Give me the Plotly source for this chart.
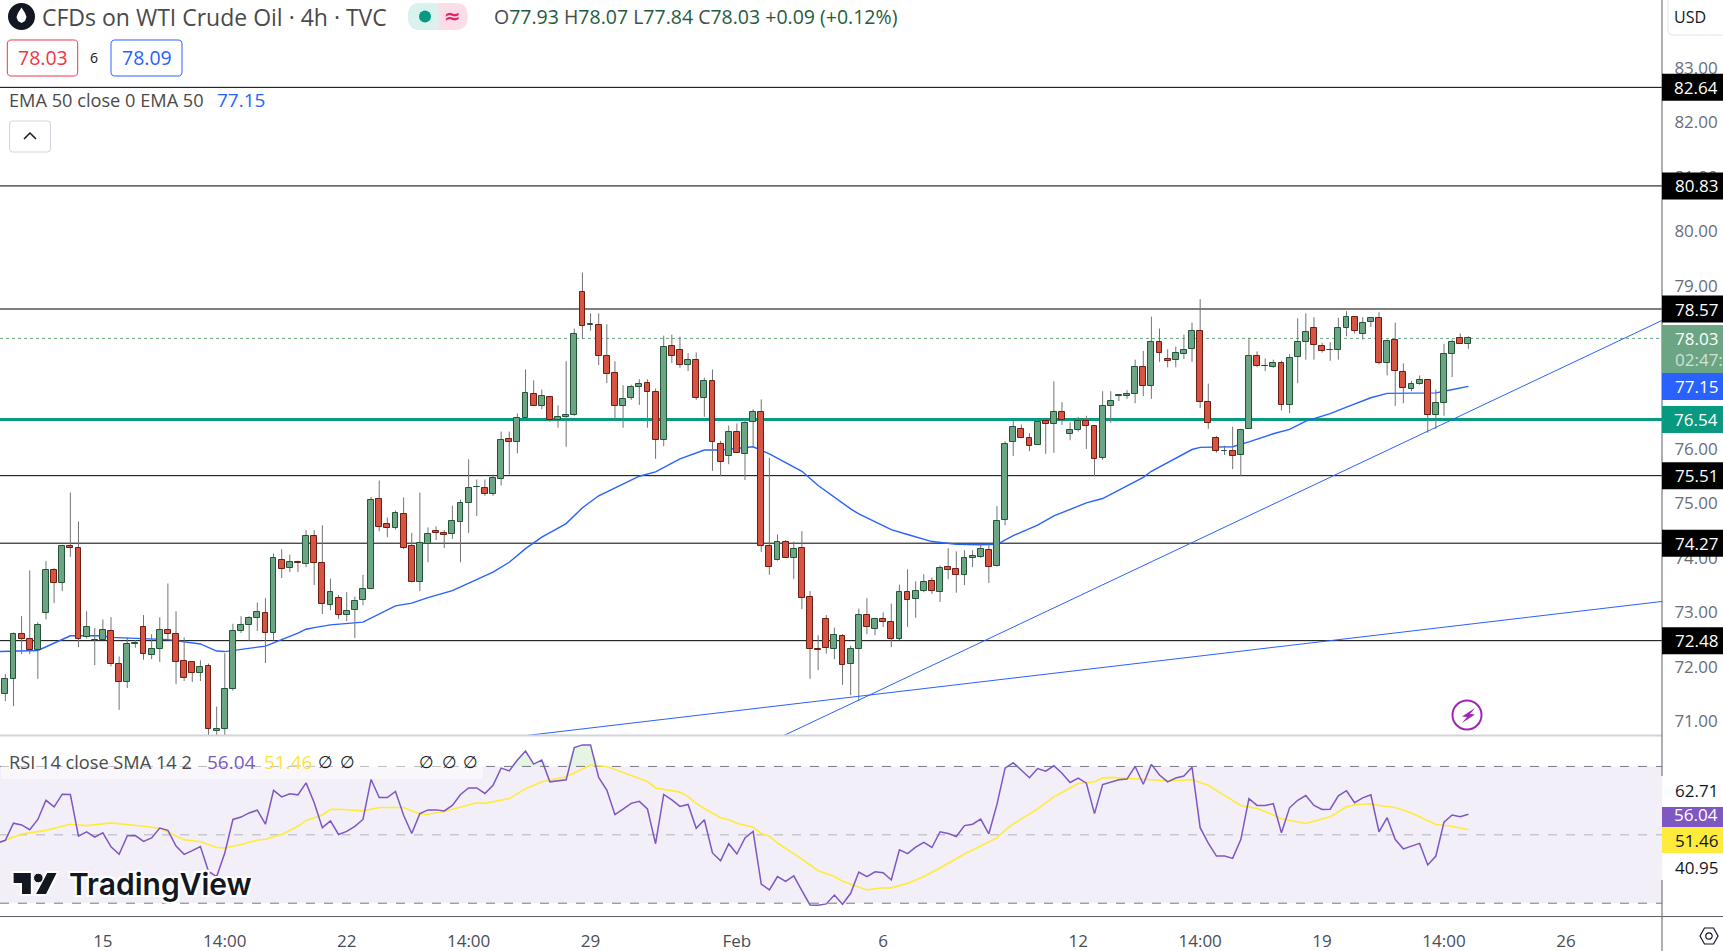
#!/usr/bin/env python3
"""WTI crude 4h chart with EMA 50, drawn levels, trend lines and an RSI pane."""
import numpy as np
import plotly.graph_objects as go

W, H = 1723, 951
AXIS_X = 1662        # price axis line
PANE_END = 735       # bottom of the price pane
RSI_END = 916        # bottom of the RSI pane

FONT = "Open Sans"
GREEN, GREEN_DK = "#6ba583", "#225437"
RED, RED_DK = "#d75442", "#6d1e14"
WICK = "#737375"
BLUE = "#2962ff"
TEAL = "#089981"
PURPLE = "#7e57c2"
YELLOW = "#ffeb3b"

# candles, bar numbers run from -1 (cut by the left edge) to 180
opens = [
    71.29, 71.51, 71.78, 72.61, 72.52, 72.30, 72.99, 73.77, 73.53, 74.22,
    74.19, 72.54, 72.49, 72.50, 72.66, 72.06, 71.73, 72.41, 72.74, 72.22,
    72.33, 72.68, 72.61, 72.10, 72.08, 71.89, 72.02, 70.83, 70.86, 71.60,
    72.66, 72.77, 72.90, 72.99, 72.63, 73.97, 73.82, 73.93, 73.89, 74.41,
    73.91, 73.14, 73.27, 72.96, 73.05, 73.23, 73.42, 75.09, 74.63, 74.55,
    74.81, 74.21, 73.55, 74.26, 74.50, 74.46, 74.44, 74.66, 75.01, 75.30,
    75.29, 75.18, 75.45, 76.19, 76.13, 76.57, 77.01, 76.79, 76.96, 76.54,
    76.59, 76.63, 78.89, 78.28, 78.28, 77.71, 77.40, 76.79, 76.94, 77.14,
    77.22, 77.05, 76.17, 77.90, 77.82, 77.55, 77.64, 76.94, 77.24, 76.10,
    75.88, 76.32, 75.91, 76.50, 76.68, 74.21, 73.97, 74.30, 73.99, 74.19,
    73.29, 72.32, 72.87, 72.33, 72.57, 72.06, 72.33, 72.96, 72.70, 72.88,
    72.83, 72.52, 73.38, 73.25, 73.40, 73.58, 73.38, 73.84, 73.80, 73.69,
    74.00, 74.02, 74.15, 73.86, 74.70, 76.12, 76.37, 76.21, 76.08, 76.52,
    76.46, 76.67, 76.28, 76.35, 76.52, 76.43, 75.84, 76.79, 76.98, 76.98,
    77.01, 77.51, 77.16, 77.97, 77.66, 77.64, 77.75, 77.84, 78.17, 76.87,
    76.21, 75.96, 75.97, 75.89, 76.37, 77.71, 77.53, 77.51, 77.58, 76.81,
    77.69, 77.97, 78.23, 77.90, 77.81, 77.82, 78.23, 78.43, 78.12, 78.34,
    78.41, 77.58, 78.01, 77.42, 77.11, 77.20, 77.27, 76.63, 76.85, 77.75,
    78.04, 77.93,
]
highs = [
    71.69, 71.87, 72.63, 72.93, 73.77, 72.82, 73.94, 73.81, 74.23, 75.20,
    74.67, 73.02, 72.71, 72.87, 72.91, 72.19, 72.54, 72.49, 72.95, 72.60,
    72.91, 73.53, 73.02, 72.54, 72.10, 72.12, 72.06, 71.27, 72.25, 72.79,
    72.93, 72.93, 73.18, 73.26, 74.08, 74.16, 74.06, 73.95, 74.51, 74.51,
    74.60, 73.62, 73.32, 73.37, 73.29, 73.69, 75.12, 75.42, 74.74, 74.87,
    75.11, 74.46, 75.20, 74.56, 74.58, 74.51, 74.96, 75.07, 75.81, 75.44,
    75.44, 75.53, 76.32, 76.32, 76.65, 77.46, 77.26, 77.09, 76.96, 76.80,
    77.61, 78.21, 79.24, 78.49, 78.49, 78.29, 77.61, 77.17, 77.18, 77.28,
    77.28, 77.11, 78.08, 78.10, 78.06, 77.76, 77.77, 77.31, 77.46, 76.15,
    76.43, 76.47, 76.56, 76.73, 76.91, 75.84, 74.43, 74.33, 74.30, 74.49,
    73.39, 72.58, 72.95, 72.72, 72.60, 72.39, 73.07, 73.26, 72.90, 73.00,
    73.16, 73.51, 73.79, 73.57, 73.70, 73.64, 73.86, 74.18, 74.12, 74.14,
    74.14, 74.25, 74.23, 74.95, 76.14, 76.52, 76.45, 76.29, 76.57, 76.52,
    77.24, 76.86, 76.49, 76.59, 76.61, 76.43, 77.06, 77.06, 77.00, 77.08,
    77.64, 77.80, 78.43, 78.21, 77.83, 77.88, 78.10, 78.32, 78.75, 77.20,
    76.24, 76.06, 76.41, 76.37, 78.04, 77.79, 77.66, 77.64, 77.62, 77.74,
    78.40, 78.49, 78.42, 77.95, 77.96, 78.41, 78.53, 78.43, 78.42, 78.41,
    78.51, 78.01, 78.32, 77.57, 77.25, 77.35, 77.27, 77.09, 77.93, 78.01,
    78.12, 78.07,
]
lows = [
    71.14, 71.37, 71.28, 72.23, 72.23, 71.78, 72.87, 73.17, 73.39, 74.02,
    72.36, 72.52, 72.03, 72.49, 72.01, 71.21, 71.61, 72.35, 72.13, 72.14,
    72.09, 72.51, 71.68, 71.74, 71.72, 71.74, 70.65, 70.65, 70.67, 71.56,
    72.62, 72.48, 72.66, 72.07, 72.48, 73.63, 73.74, 73.74, 73.83, 73.50,
    72.97, 73.04, 72.88, 72.84, 72.53, 73.13, 73.42, 74.49, 74.38, 74.52,
    74.16, 73.55, 73.39, 73.92, 74.33, 74.18, 74.35, 73.92, 74.46, 74.77,
    75.14, 75.14, 75.33, 75.53, 75.92, 76.57, 76.79, 76.73, 76.50, 76.39,
    76.04, 76.61, 78.02, 78.17, 77.54, 77.21, 76.51, 76.39, 76.90, 76.81,
    76.39, 75.82, 76.05, 77.58, 77.49, 77.43, 76.90, 76.59, 75.60, 75.50,
    75.72, 75.93, 75.43, 76.02, 74.11, 73.69, 73.95, 74.00, 73.61, 73.06,
    71.78, 71.94, 72.24, 72.14, 71.67, 71.48, 71.38, 72.60, 72.58, 72.73,
    72.36, 72.49, 72.73, 72.90, 73.37, 73.34, 73.19, 73.61, 73.36, 73.50,
    73.83, 74.00, 73.54, 73.84, 74.60, 75.87, 76.21, 75.96, 76.08, 75.91,
    75.93, 76.44, 76.16, 76.32, 76.00, 75.50, 75.80, 76.48, 76.88, 76.92,
    76.84, 76.97, 76.92, 77.60, 77.50, 77.50, 77.65, 77.60, 76.75, 76.37,
    75.93, 75.89, 75.63, 75.50, 76.37, 77.50, 77.43, 77.49, 76.71, 76.66,
    77.21, 77.64, 77.64, 77.77, 77.62, 77.64, 78.07, 78.12, 78.01, 78.24,
    77.55, 77.35, 76.79, 76.84, 77.06, 77.18, 76.30, 76.37, 76.61, 77.32,
    77.93, 77.84,
]
closes = [
    71.51, 71.78, 72.61, 72.52, 72.30, 72.77, 73.77, 73.53, 74.21, 74.19,
    72.52, 72.73, 72.50, 72.68, 72.06, 71.73, 72.41, 72.43, 72.24, 72.33,
    72.68, 72.61, 72.08, 71.80, 71.89, 72.00, 70.85, 70.86, 71.60, 72.66,
    72.77, 72.90, 73.01, 72.63, 73.99, 73.80, 73.93, 73.91, 74.41, 73.91,
    73.16, 73.38, 72.96, 73.03, 73.21, 73.42, 75.07, 74.57, 74.55, 74.83,
    74.19, 73.55, 74.28, 74.44, 74.46, 74.42, 74.68, 75.01, 75.29, 75.31,
    75.18, 75.47, 76.17, 76.13, 76.57, 77.03, 76.79, 76.98, 76.54, 76.59,
    76.63, 78.12, 78.26, 78.29, 77.71, 77.38, 76.79, 76.92, 77.14, 77.20,
    77.05, 76.17, 77.88, 77.71, 77.55, 77.64, 76.94, 77.24, 76.12, 75.77,
    76.32, 75.93, 76.48, 76.68, 74.22, 73.84, 74.30, 74.00, 74.17, 73.27,
    72.33, 72.31, 72.35, 72.59, 72.04, 72.33, 72.96, 72.74, 72.88, 72.83,
    72.52, 73.38, 73.23, 73.40, 73.56, 73.40, 73.82, 73.78, 73.69, 74.00,
    74.04, 74.17, 73.84, 74.68, 76.10, 76.41, 76.21, 76.06, 76.50, 76.45,
    76.68, 76.54, 76.35, 76.52, 76.43, 75.82, 76.79, 76.89, 76.99, 77.01,
    77.51, 77.16, 77.97, 77.77, 77.62, 77.77, 77.82, 78.17, 76.87, 76.48,
    75.97, 75.97, 75.88, 76.35, 77.71, 77.53, 77.52, 77.58, 76.81, 77.67,
    77.97, 78.15, 77.91, 77.80, 77.82, 78.23, 78.43, 78.17, 78.32, 78.41,
    77.58, 77.99, 77.44, 77.12, 77.20, 77.27, 76.63, 76.85, 77.75, 77.97,
    77.93, 78.03,
]
bars = list(range(-1, 181))

ema_bars = [
    -1, 4, 8, 12, 13, 17, 20, 24, 26, 27, 32, 36, 37, 38, 40, 44, 48, 50, 52,
    55, 60, 62, 64, 66, 69, 71, 73, 78, 80, 83, 86, 88, 92, 94, 98, 100, 104,
    105, 109, 111, 114, 117, 120, 122, 124, 127, 129, 133, 135, 140, 141, 146,
    147, 151, 153, 156, 158, 160, 163, 165, 168, 170, 176, 177, 180,
]
ema_values = [
    72.28, 72.30, 72.57, 72.57, 72.54, 72.51, 72.50, 72.42, 72.29, 72.28,
    72.38, 72.62, 72.69, 72.72, 72.77, 72.82, 73.12, 73.17, 73.27, 73.40,
    73.74, 73.92, 74.17, 74.38, 74.63, 74.92, 75.14, 75.50, 75.58, 75.82,
    75.98, 75.98, 76.04, 75.91, 75.59, 75.33, 74.90, 74.81, 74.52, 74.43,
    74.30, 74.25, 74.24, 74.25, 74.41, 74.60, 74.77, 75.01, 75.09, 75.48,
    75.59, 75.99, 76.03, 76.04, 76.13, 76.28, 76.36, 76.51, 76.65, 76.77,
    76.94, 77.02, 77.03, 77.06, 77.15,
]

rsi_values = [
    47.6, 48.4, 53.4, 52.9, 51.5, 54.5, 60.1, 58.2, 61.9, 61.8,
    49.6, 50.9, 49.3, 50.6, 46.5, 44.3, 49.7, 49.8, 48.1, 49.1,
    52.0, 51.3, 46.7, 44.3, 45.4, 46.6, 39.3, 37.8, 44.7, 54.5,
    55.2, 56.4, 57.2, 53.1, 63.0, 61.1, 62.0, 61.7, 65.2, 59.4,
    52.1, 54.1, 50.1, 51.0, 52.5, 54.5, 66.2, 60.9, 60.9, 62.7,
    55.7, 50.4, 56.2, 57.3, 57.3, 57.0, 58.6, 61.8, 63.7, 63.7,
    62.1, 64.5, 69.5, 68.7, 71.9, 74.5, 70.7, 71.9, 65.5, 65.8,
    66.1, 75.5, 76.3, 76.3, 66.8, 63.1, 55.9, 57.5, 59.2, 59.8,
    57.6, 47.4, 61.8, 60.2, 58.3, 58.9, 51.9, 54.4, 44.7, 42.4,
    47.4, 44.4, 49.1, 51.0, 35.6, 33.9, 37.8, 36.4, 38.0, 33.7,
    29.5, 29.4, 29.8, 32.4, 29.7, 32.9, 39.1, 37.8, 39.2, 38.9,
    36.8, 45.6, 44.5, 46.4, 47.8, 46.3, 50.9, 50.4, 49.5, 52.7,
    53.1, 54.6, 50.3, 58.9, 69.5, 71.1, 68.8, 66.7, 69.4, 68.6,
    70.2, 68.0, 65.3, 66.6, 65.1, 56.2, 64.7, 65.5, 66.1, 66.3,
    70.0, 64.8, 70.6, 67.5, 65.5, 66.6, 67.2, 69.8, 52.1, 47.6,
    43.8, 43.8, 43.1, 48.6, 60.6, 58.6, 58.6, 59.1, 50.6, 57.9,
    60.1, 61.5, 58.6, 57.4, 57.5, 61.4, 62.9, 59.4, 60.8, 61.7,
    50.9, 55.0, 48.6, 45.9, 46.7, 47.5, 41.2, 43.8, 53.7, 55.8,
    55.3, 56.04,
]
sma_bars = [
    -1, 2, 5, 8, 10, 13, 17, 19, 22, 24, 26, 27, 29, 31, 32, 34, 36, 37, 39,
    40, 41, 44, 46, 49, 51, 52, 54, 58, 59, 62, 64, 66, 69, 72, 74, 79, 80,
    83, 84, 85, 86, 88, 89, 90, 92, 93, 94, 95, 98, 100, 102, 103, 106, 108,
    109, 111, 113, 115, 118, 120, 122, 123, 124, 127, 129, 131, 132, 134, 135,
    136, 140, 143, 146, 147, 148, 149, 152, 154, 155, 157, 160, 163, 165, 166,
    168, 169, 171, 173, 176, 178, 180,
]
sma_values = [
    47.6, 50.2, 51.3, 53.1, 52.7, 53.5, 52.5, 51.9, 48.6, 48.0, 46.3, 46.2,
    47.2, 48.5, 48.7, 50.1, 52.5, 54.2, 55.8, 57.4, 57.5, 57.0, 58.0, 58.0,
    56.1, 56.0, 56.8, 59.4, 59.2, 60.6, 63.5, 65.5, 67.0, 70.4, 70.0, 65.6,
    63.7, 62.5, 61.2, 59.2, 57.7, 55.0, 54.4, 53.4, 52.2, 50.4, 49.6, 47.6,
    42.9, 39.5, 37.8, 36.4, 33.9, 34.5, 34.5, 35.8, 37.8, 40.3, 44.4, 46.7,
    49.1, 51.4, 53.2, 57.6, 61.1, 63.7, 65.0, 65.5, 66.6, 66.8, 66.3, 65.8,
    66.1, 65.3, 64.5, 63.0, 58.6, 57.7, 56.8, 54.7, 53.3, 55.3, 58.2, 58.8,
    59.1, 58.6, 58.0, 56.4, 53.0, 52.5, 51.46,
]

level_values = [82.64, 80.83, 78.57, 75.51, 74.27, 72.48]
support_level = 76.54
last_price = 78.03
ema_last = 77.15
steep_trend_bars, steep_trend_prices = [95.8, 203.82], [70.74, 78.36]
flat_trend_bars, flat_trend_prices = [64.2, 203.82], [70.74, 73.20]
rsi_bands = [70, 50, 30]
rsi_last, sma_last = 56.04, 51.46

price_ticks = [83, 82, 81, 80, 79, 78, 77, 76, 75, 74, 73, 72, 71]
time_tick_bars = [12, 27, 42, 57, 72, 90, 108, 132, 147, 162, 177, 192]
time_tick_labels = ["15", "14:00", "22", "14:00", "29", "Feb", "6", "12",
                    "14:00", "19", "14:00", "26"]

X_RANGE = [-0.656, 203.82]
PRICE_RANGE = [70.748, 84.244]
RSI_RANGE = [26.26, 79.2]


def xp(px):
    return px / W


def yp(py):
    return 1 - py / H


def price_py(price):
    return (PRICE_RANGE[1] - price) / (PRICE_RANGE[1] - PRICE_RANGE[0]) * PANE_END


def poly(points):
    return "M " + " L ".join(f"{xp(x):.5f},{yp(y):.5f}" for x, y in points) + " Z"


def round_rect(x0, y0, x1, y1, r):
    X0, X1, Y0, Y1 = xp(x0), xp(x1), yp(y0), yp(y1)
    rx, ry = r / W, r / H
    return (f"M {X0+rx:.5f},{Y0:.5f} L {X1-rx:.5f},{Y0:.5f} Q {X1:.5f},{Y0:.5f} {X1:.5f},{Y0-ry:.5f} "
            f"L {X1:.5f},{Y1+ry:.5f} Q {X1:.5f},{Y1:.5f} {X1-rx:.5f},{Y1:.5f} "
            f"L {X0+rx:.5f},{Y1:.5f} Q {X0:.5f},{Y1:.5f} {X0:.5f},{Y1+ry:.5f} "
            f"L {X0:.5f},{Y0-ry:.5f} Q {X0:.5f},{Y0:.5f} {X0+rx:.5f},{Y0:.5f} Z")


fig = go.Figure()


def text(label, px, py, color="#131722", size=17, anchor="left", **font_kw):
    fig.add_annotation(x=xp(px), y=yp(py), xref="paper", yref="paper", text=label,
                       showarrow=False, xanchor=anchor, yanchor="middle", borderpad=0,
                       font=dict(family=font_kw.pop("family", FONT), size=size, color=color, **font_kw))


def path(d, fill="rgba(0,0,0,0)", line="rgba(0,0,0,0)", width=1, layer="above"):
    fig.add_shape(type="path", path=d, xref="paper", yref="paper", fillcolor=fill,
                  line=dict(color=line, width=width), layer=layer)


def box(x0, y0, x1, y1, fill, layer="above", opacity=1):
    fig.add_shape(type="rect", x0=xp(x0), x1=xp(x1), y0=yp(y0), y1=yp(y1), xref="paper", yref="paper",
                  fillcolor=fill, line_width=0, layer=layer, opacity=opacity)


def dot(cx, cy, r, fill, line="rgba(0,0,0,0)", width=0):
    fig.add_shape(type="circle", x0=xp(cx - r), x1=xp(cx + r), y0=yp(cy - r), y1=yp(cy + r),
                  xref="paper", yref="paper", fillcolor=fill, line=dict(color=line, width=width))


def tag(label, cy, fill, color="#ffffff", half=13.5):
    box(AXIS_X, cy - half, W, cy + half, fill)
    text(label, 1696, cy, color=color, anchor="center")


# lines under the candles
for level in level_values:
    fig.add_trace(go.Scatter(x=X_RANGE, y=[level, level], mode="lines", line=dict(color="#000000", width=1),
                             hoverinfo="skip", showlegend=False))
fig.add_trace(go.Scatter(x=X_RANGE, y=[support_level, support_level], mode="lines",
                         line=dict(color=TEAL, width=3), showlegend=False, hoverinfo="skip"))
fig.add_trace(go.Scatter(x=X_RANGE, y=[last_price, last_price], mode="lines",
                         line=dict(color=GREEN, width=1, dash="dot"), showlegend=False, hoverinfo="skip"))
fig.add_trace(go.Scatter(x=ema_bars, y=ema_values, mode="lines", line=dict(color=BLUE, width=1.4),
                         name="EMA 50", showlegend=False))

wick_x, wick_y = [], []
for b, hi, lo in zip(bars, highs, lows):
    wick_x += [b, b, None]
    wick_y += [lo, hi, None]
fig.add_trace(go.Scatter(x=wick_x, y=wick_y, mode="lines", line=dict(color=WICK, width=1),
                         hoverinfo="skip", showlegend=False))

# bodies go on an overlay axis so they sit on top of every line above
up = [c >= o for o, c in zip(opens, closes)]
fig.add_trace(go.Bar(
    x=bars, base=[min(o, c) for o, c in zip(opens, closes)],
    y=[abs(c - o) for o, c in zip(opens, closes)],
    width=0.72, yaxis="y2",
    marker=dict(color=[GREEN if u else RED for u in up],
                line=dict(color=[GREEN_DK if u else RED_DK for u in up], width=1)),
    showlegend=False,
))
fig.add_trace(go.Scatter(x=steep_trend_bars, y=steep_trend_prices, yaxis="y2", mode="lines",
                         line=dict(color=BLUE, width=1), showlegend=False, hoverinfo="skip"))
fig.add_trace(go.Scatter(x=flat_trend_bars, y=flat_trend_prices, yaxis="y2", mode="lines",
                         line=dict(color=BLUE, width=1), showlegend=False, hoverinfo="skip"))

# RSI pane
fig.add_shape(type="rect", xref="paper", x0=0, x1=xp(AXIS_X), yref="y3", y0=rsi_bands[2], y1=rsi_bands[0],
              fillcolor="#f2eff9", line_width=0, layer="below")
for band, col in zip(rsi_bands, ["#787b86", "#b2b4bb", "#787b86"]):
    fig.add_shape(type="line", xref="paper", x0=0, x1=xp(AXIS_X), yref="y3", y0=band, y1=band,
                  line=dict(color=col, width=1, dash="dash"), layer="below")
fig.add_trace(go.Scatter(x=bars, y=[70] * len(bars), xaxis="x2", yaxis="y3", mode="lines", line_width=0,
                         hoverinfo="skip", showlegend=False))
fig.add_trace(go.Scatter(x=bars, y=np.maximum(rsi_values, 70), xaxis="x2", yaxis="y3", mode="lines", line_width=0,
                         fill="tonexty", fillcolor="rgba(76,175,80,0.14)", hoverinfo="skip", showlegend=False))
fig.add_trace(go.Scatter(x=sma_bars, y=sma_values, xaxis="x2", yaxis="y3", mode="lines",
                         line=dict(color=YELLOW, width=1.6), showlegend=False))
fig.add_trace(go.Scatter(x=bars, y=rsi_values, xaxis="x2", yaxis="y3", mode="lines",
                         line=dict(color=PURPLE, width=1.5), showlegend=False))

fig.update_layout(
    width=W, height=H, margin=dict(l=0, r=0, t=0, b=0),
    paper_bgcolor="#ffffff", plot_bgcolor="#ffffff",
    showlegend=False, hovermode=False, bargap=0,
    xaxis=dict(domain=[0, xp(AXIS_X)], range=X_RANGE, anchor="y", showgrid=False, zeroline=False,
               showticklabels=False, ticks=""),
    xaxis2=dict(domain=[0, xp(AXIS_X)], range=X_RANGE, anchor="y3", showgrid=False, zeroline=False,
                tickmode="array", tickvals=time_tick_bars, ticktext=time_tick_labels,
                ticks="outside", ticklen=10, tickcolor="rgba(0,0,0,0)",
                tickfont=dict(family=FONT, size=17, color="#4a4d57")),
    yaxis=dict(domain=[yp(PANE_END), 1], range=PRICE_RANGE, side="right", anchor="x", showgrid=False, zeroline=False,
               tickmode="array", tickvals=price_ticks, ticktext=[f"{p:.2f}" for p in price_ticks],
               ticks="outside", ticklen=8, tickcolor="rgba(0,0,0,0)",
               tickfont=dict(family=FONT, size=17, color="#6a6d78")),
    yaxis2=dict(domain=[yp(PANE_END), 1], range=PRICE_RANGE, overlaying="y", anchor="x", visible=False),
    yaxis3=dict(domain=[yp(RSI_END), yp(PANE_END)], range=RSI_RANGE, anchor="x2", showgrid=False, zeroline=False,
                showticklabels=False, ticks=""),
)

# pane borders and price axis line
box(0, 734.5, AXIS_X, 736.5, "#d1d4dc")
box(0, 916, W, 917, "#5d606b")
box(AXIS_X - 0.5, 0, AXIS_X + 0.5, 776, "#5d606b")
box(AXIS_X - 0.5, 880, AXIS_X + 0.5, H, "#5d606b")

# header
dot(21.5, 16.5, 13.5, "#131722")
path(poly([(21.5, 7.5), (25, 13), (26.5, 17), (25, 21), (21.5, 23), (18, 21), (16.5, 17), (18, 13)]), fill="#ffffff")
text("CFDs on WTI Crude Oil · 4h · TVC", 41, 16.5, color="#4a4a4a", size=23)
path(round_rect(408, 3, 467.7, 30, 13), fill="#fcdce6")
path(round_rect(408, 3, 452, 30, 13), fill="#d9f2ee")
box(438.6, 3, 452, 30, "#fcdce6")
dot(425, 16.5, 6, TEAL)
text("≈", 452, 16, color="#e91e63", size=20, anchor="center", family="DejaVu Sans", weight="bold")

val = "#1f5c3c"
ohlc = (f"O<span style='color:{val}'>77.93</span> H<span style='color:{val}'>78.07</span> "
        f"L<span style='color:{val}'>77.84</span> C<span style='color:{val}'>78.03</span> "
        f"<span style='color:{val}'>+0.09 (+0.12%)</span>")
text(ohlc, 492.5, 16.5, color="#4a4a4a", size=19.5)

path(round_rect(7.3, 40, 77.7, 76, 4), fill="#ffffff", line="#f23645", width=1)
text("78.03", 42.5, 58, color="#f23645", size=19.5, anchor="center")
text("6", 94, 58, color="#131722", size=14, anchor="center")
path(round_rect(111, 40, 182, 76, 4), fill="#ffffff", line=BLUE, width=1)
text("78.09", 146.5, 58, color=BLUE, size=19.5, anchor="center")

text("EMA 50 close 0 EMA 50", 8.4, 100, color="#4a4a4a", size=18.2)
text("77.15", 215.5, 100, color=BLUE, size=19)
path(round_rect(9.6, 121, 50.5, 152, 3), fill="#ffffff", line="#d1d4dc", width=1)
fig.add_shape(type="path", path=f"M {xp(24):.5f},{yp(139):.5f} L {xp(30):.5f},{yp(133):.5f} L {xp(36):.5f},{yp(139):.5f}",
              xref="paper", yref="paper", line=dict(color="#131722", width=1.5))

# RSI legend
box(1, 745, 483, 779, "#ffffff", opacity=0.5)
text("RSI 14 close SMA 14 2", 8.4, 762, color="#4a4a4a", size=18.2)
text(f"{rsi_last:.2f}", 205.5, 762, color=PURPLE, size=19)
text(f"{sma_last:.2f}", 262.5, 762, color="#fde23c", size=19)
for px in [325, 347.5, 426.7, 449, 470.7]:
    text("∅", px, 762, color="#131722", size=17, anchor="center", family="DejaVu Sans")

# TradingView mark
halo = "2px 2px 0 #fff, -2px -2px 0 #fff, 2px -2px 0 #fff, -2px 2px 0 #fff"
path(poly([(12.6, 872), (31.8, 872), (31.8, 895), (21, 895), (21, 884), (12.6, 884)]), fill="#131722", line="#ffffff", width=2)
path(poly([(58.2, 872), (46.7, 872), (34.4, 895), (46.7, 895)]), fill="#131722", line="#ffffff", width=2)
dot(38.3, 878, 4.8, "#131722", line="#ffffff", width=1)
text("TradingView", 68, 884, color="#131722", size=30, family="Inter", weight=600, shadow=halo)

# right axis
path(round_rect(1668, -4, 1740, 35, 5), fill="#ffffff", line="#e0e3eb", width=1)
text("USD", 1673, 16.5, color="#131722", size=16)

for level in level_values:
    tag(f"{level:.2f}", price_py(level), "#000000")
tag(f"{support_level:.2f}", price_py(support_level), TEAL)
box(AXIS_X, 325, W, 373, GREEN)
text(f"{last_price:.2f}", 1696, 338.5, color="#ffffff", anchor="center")
text("02:47:", 1674, 359, color="rgba(255,255,255,0.7)")
box(AXIS_X, 373, W, 400, BLUE)
text(f"{ema_last:.2f}", 1696, 386.5, color="#ffffff", anchor="center")

# RSI axis labels
box(AXIS_X, 807, W, 827, PURPLE)
box(AXIS_X, 827, W, 853, YELLOW)
text(f"{rsi_last:.2f}", 1696, 814.5, color="#ffffff", anchor="center")
text(f"{sma_last:.2f}", 1696, 840, color="#131722", anchor="center")
text("62.71", 1696, 790, color="#131722", anchor="center")
text("40.95", 1696, 867, color="#131722", anchor="center")

# lightning badge
dot(1467, 715, 14.5, "#ffffff", line="#9c27b0", width=2)
path(poly([(1475, 708), (1462, 716.5), (1467, 717), (1462, 723), (1475, 714.5), (1470, 714)]), fill="#9c27b0")

# settings hexagon
path(poly([(1700, 936), (1704.5, 928), (1713.5, 928), (1718, 936), (1713.5, 944), (1704.5, 944)]),
     fill="#ffffff", line="#131722", width=1.2)
dot(1709, 936, 3.2, "#ffffff", line="#131722", width=1.2)

fig.write_html("out.html", config={"displayModeBar": False},
               post_script="document.body.style.margin='0';document.body.style.overflow='hidden';")
